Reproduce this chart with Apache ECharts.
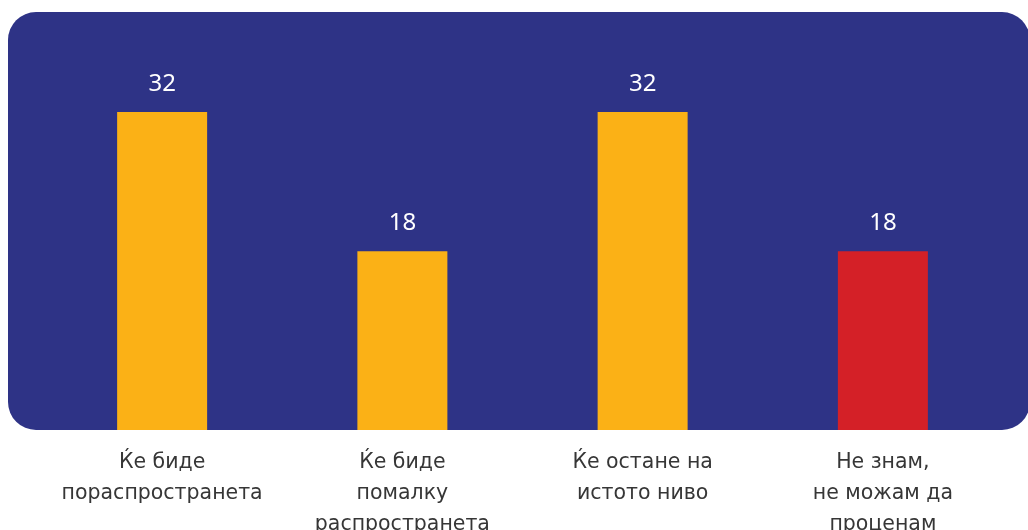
<!DOCTYPE html>
<html>
<head>
<meta charset="utf-8">
<script src="https://cdn.jsdelivr.net/npm/echarts@6/dist/echarts.min.js"></script>
<style>
  html, body { margin: 0; padding: 0; background: #ffffff; }
  #chart { width: 1028px; height: 530px; }
</style>
</head>
<body>
<div id="chart"></div>
<script>
// Answer options and their shares (%)
const categories = [
  'Ќе биде\nпораспространета',
  'Ќе биде\nпомалку\nраспространета',
  'Ќе остане на\nистото ниво',
  'Не знам,\nне можам да\nпроценам'
];
const values = [32, 18, 32, 18];

// Bar fills: the "don't know" answer is set apart in red
const barColors = ['#FBB116', '#FBB116', '#FBB116', '#D42027'];

const chart = echarts.init(document.getElementById('chart'), null, { renderer: 'canvas' });

chart.setOption({
  backgroundColor: '#ffffff',
  animation: false,
  graphic: [{
    type: 'rect',
    z: -10,
    silent: true,
    shape: { x: 8, y: 12, width: 1022, height: 418, r: 28 },
    style: { fill: '#2E3386' }
  }],
  grid: { left: 42, right: 25, top: 32.5, bottom: 100, containLabel: false, outerBoundsMode: 'none' },
  xAxis: {
    type: 'category',
    data: categories,
    axisLine: { show: false },
    axisTick: { show: false },
    axisLabel: {
      interval: 0,
      margin: 17,
      color: '#363636',
      fontFamily: 'DejaVu Sans',
      fontSize: 20.5,
      lineHeight: 31,
      align: 'center'
    }
  },
  yAxis: {
    type: 'value',
    min: 0,
    max: 40,
    show: false,
    splitLine: { show: false }
  },
  series: [{
    type: 'bar',
    barWidth: 90,
    data: values.map((v, i) => ({ value: v, itemStyle: { color: barColors[i] } })),
    label: {
      show: true,
      position: 'top',
      distance: 16,
      color: '#ffffff',
      fontFamily: 'Noto Sans',
      fontSize: 24
    }
  }]
});
</script>
</body>
</html>
